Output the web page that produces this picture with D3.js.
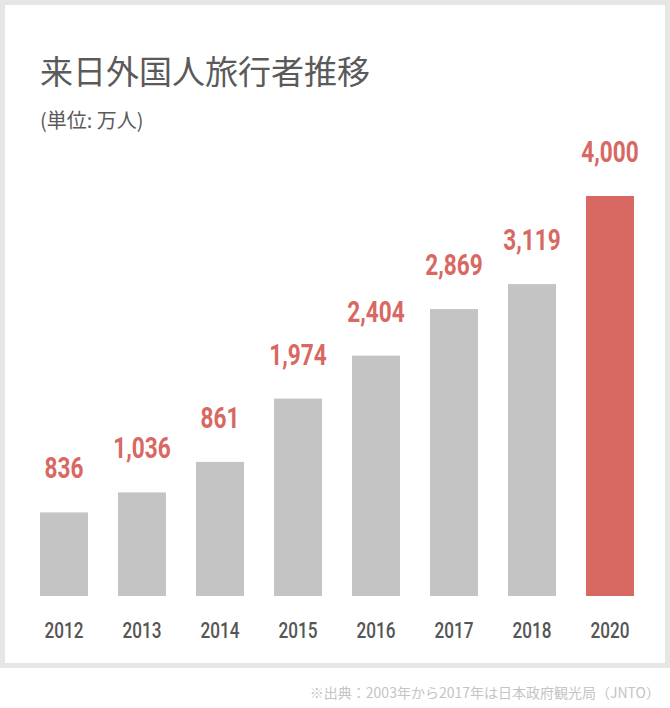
<!DOCTYPE html>
<html><head><meta charset="utf-8">
<script src="https://cdn.jsdelivr.net/npm/d3@7"></script>
<style>body{margin:0;background:#fff}</style>
</head><body>
<script>
var years = ["2012", "2013", "2014", "2015", "2016", "2017", "2018", "2020"];
var values = [836, 1036, 1341, 1974, 2404, 2869, 3119, 4000];
var valueLabels = ["836", "1,036", "861", "1,974", "2,404", "2,869", "3,119", "4,000"];

var W = 670, H = 708;
var svg = d3.select("body").append("svg").attr("width", W).attr("height", H);

svg.append("rect").attr("x", 2.5).attr("y", 2.5).attr("width", W - 5).attr("height", 663)
    .attr("fill", "#fff").attr("stroke", "#e6e6e6").attr("stroke-width", 5);

svg.append("text").attr("x", 40).attr("y", 84).attr("fill", "#5a5a5a")
    .style("font", "400 33px 'Noto Sans CJK JP'").text("来日外国人旅行者推移");
svg.append("text").attr("x", 40).attr("y", 128).attr("fill", "#5a5a5a")
    .style("font", "400 20px 'Noto Sans CJK JP'").text("(単位: 万人)");

var x = d3.scaleBand().domain(years).range([40, 634]).paddingInner(30 / 78).paddingOuter(0);
var y = d3.scaleLinear().domain([0, 4000]).range([596, 196]);

var g = svg.selectAll(".bar").data(years).enter().append("g");
g.append("rect")
    .attr("x", function (d) { return x(d); })
    .attr("y", function (d, i) { return y(values[i]); })
    .attr("width", x.bandwidth())
    .attr("height", function (d, i) { return y(0) - y(values[i]); })
    .attr("fill", function (d, i) { return i === years.length - 1 ? "#d86862" : "#c4c4c4"; });

g.append("text")
    .attr("transform", function (d, i) {
        return "translate(" + (x(d) + x.bandwidth() / 2) + "," + (y(values[i]) - 34) + ") scale(0.78,1)";
    })
    .attr("text-anchor", "middle").attr("fill", "#d86862")
    .style("font", "700 29px Roboto")
    .text(function (d, i) { return valueLabels[i]; });

g.append("text")
    .attr("transform", function (d) {
        return "translate(" + (x(d) + x.bandwidth() / 2) + ",638) scale(0.78,1)";
    })
    .attr("text-anchor", "middle").attr("fill", "#555")
    .style("font", "500 22px Roboto")
    .text(function (d) { return d; });

svg.append("text").attr("x", 660).attr("y", 698).attr("text-anchor", "end").attr("fill", "#c4c4c4")
    .style("font", "400 14px 'Noto Sans CJK JP'").text("※出典：2003年から2017年は日本政府観光局（JNTO）");
</script>
</body></html>
